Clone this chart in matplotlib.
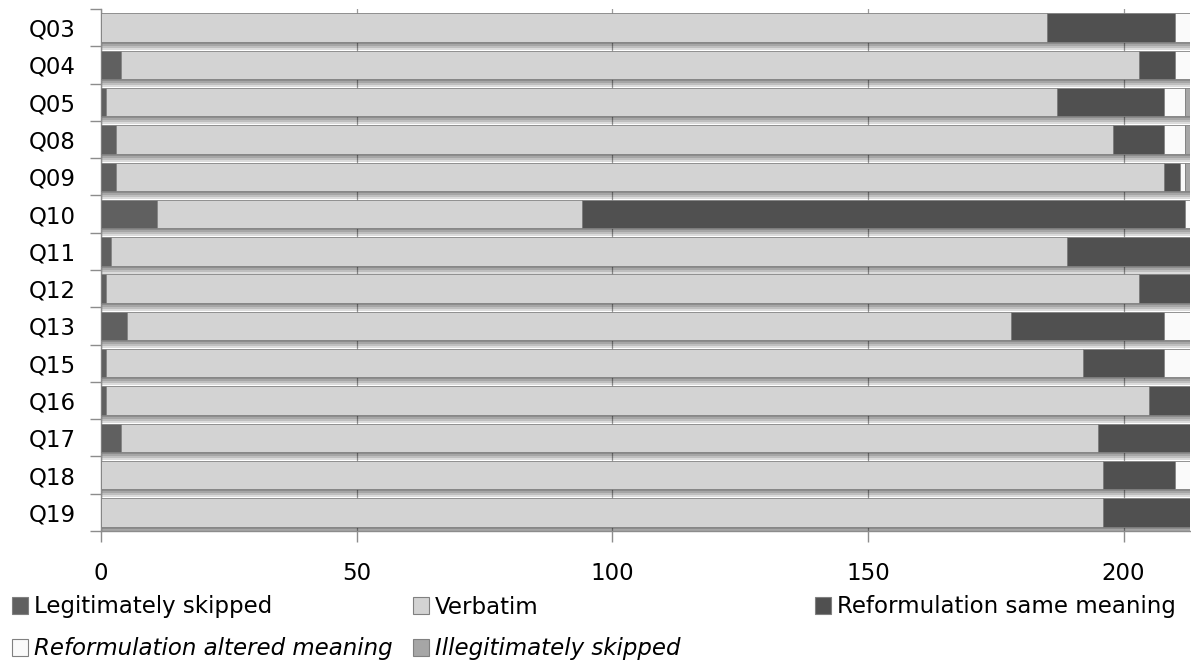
import numpy as np
import matplotlib
matplotlib.use("Agg")
import matplotlib.pyplot as plt
from matplotlib.patches import Patch

questions = ["Q03", "Q04", "Q05", "Q08", "Q09", "Q10", "Q11",
             "Q12", "Q13", "Q15", "Q16", "Q17", "Q18", "Q19"]
legit_skipped = [0, 4, 1, 3, 3, 11, 2, 1, 5, 1, 1, 4, 0, 0]
verbatim = [185, 199, 186, 195, 205, 83, 187, 202, 173, 191, 204, 191, 196, 196]
same_meaning = [25, 7, 21, 10, 3, 118, 24, 10, 30, 16, 8, 18, 14, 17]
altered_meaning = [3, 3, 4, 4, 1, 1, 0, 0, 5, 5, 0, 0, 3, 0]
illegit_skipped = [0, 0, 1, 1, 1, 0, 0, 0, 0, 0, 0, 0, 0, 0]

series = [
    ("Legitimately skipped", legit_skipped, "#606060", "normal"),
    ("Verbatim", verbatim, "#d3d3d3", "normal"),
    ("Reformulation same meaning", same_meaning, "#505050", "normal"),
    ("Reformulation altered meaning", altered_meaning, "#fafafa", "italic"),
    ("Illegitimately skipped", illegit_skipped, "#a6a6a6", "italic"),
]

plt.rcParams["font.family"] = ["DejaVu Sans"]
FS = 16.5
W, H = 1191, 664
fig = plt.figure(figsize=(W / 100, H / 100), dpi=100)
ax = fig.add_axes([101 / W, (H - 531) / H, (1190 - 101) / W, 522 / H])

y = np.arange(len(questions))
bar_h = 0.76
totals = np.sum([s[1] for s in series], axis=0)

# soft drop shadow below each bar (Excel style)
row_px = 522 / len(questions)
dh = 2 / row_px
for k, a in enumerate([0.45, 0.35, 0.25, 0.14]):
    ax.barh(y + bar_h / 2 + dh * (k + 0.5), totals, height=dh, color="black",
            alpha=a, linewidth=0, zorder=2)

left = np.zeros(len(questions))
for name, vals, color, style in series:
    vals = np.array(vals, dtype=float)
    ax.barh(y, vals, left=left, height=bar_h, color=color,
            edgecolor="#808080", linewidth=0.6, zorder=3)
    left += vals

ax.set_xlim(0, 213)
ax.set_ylim(len(questions) - 0.5, -0.5)
ax.set_xticks([0, 50, 100, 150, 200])
ax.set_yticks(y)
ax.set_yticklabels(questions)
ax.set_yticks(np.arange(len(questions) + 1) - 0.5, minor=True)

ax.tick_params(axis="y", which="major", length=0, pad=18, labelsize=FS)
ax.tick_params(axis="y", which="minor", length=8, width=1, color="#8c8c8c",
               direction="out")
ax.tick_params(axis="x", which="major", length=8, width=1, color="#8c8c8c",
               direction="out", pad=14, labelsize=FS)

ax.set_axisbelow(True)
ax.grid(axis="x", color="#9a9a9a", linewidth=0.9, zorder=0)
for side in ["top", "right"]:
    ax.spines[side].set_visible(False)
for side in ["left", "bottom"]:
    ax.spines[side].set_color("#8c8c8c")
    ax.spines[side].set_linewidth(1)

# legend, laid out like the original (fixed column positions)
positions = [(12, 607), (413, 607), (815, 607), (12, 649), (413, 649)]
for (name, vals, color, style), (px, py) in zip(series, positions):
    handle = Patch(facecolor=color, edgecolor="#808080", linewidth=0.8)
    fig.legend(handles=[handle], labels=[name], loc="center left",
               bbox_to_anchor=(px / W, 1 - py / H), frameon=False,
               borderpad=0, borderaxespad=0, handlelength=0.7,
               handleheight=0.7, handletextpad=0.25,
               prop={"size": FS, "style": style})

fig.savefig("out.png", dpi=100)
